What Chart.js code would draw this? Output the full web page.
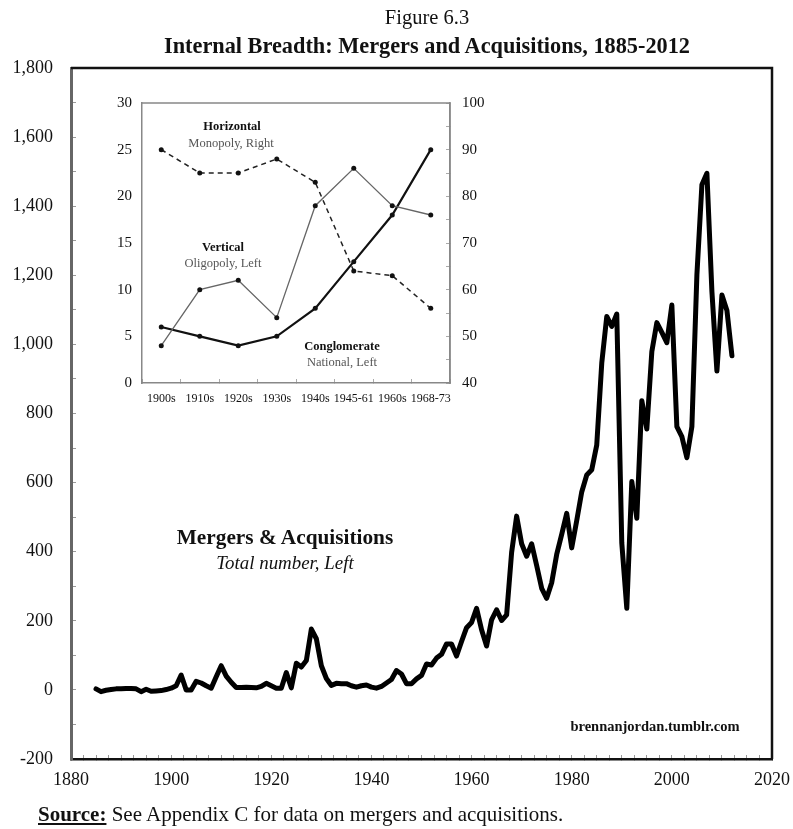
<!DOCTYPE html>
<html>
<head>
<meta charset="utf-8">
<script src="https://cdn.jsdelivr.net/npm/chart.js@4"></script>
<style>
  body { margin: 0; background: #fff; }
  #wrap { position: relative; width: 793px; height: 829px; font-family: "Liberation Serif", serif; color: #111; }
  canvas { position: absolute; }
  .t { position: absolute; white-space: nowrap; line-height: 1; transform: translate(-50%, -50%); }
</style>
</head>
<body>
<div id="wrap">
  <canvas id="main" width="793" height="829" style="left:0;top:0"></canvas>
  <canvas id="inset" width="400" height="330" style="left:90px;top:90px"></canvas>

  <div class="t" style="left:427px;top:17px;font-size:20.5px">Figure 6.3</div>
  <div class="t" style="left:427px;top:46px;font-size:22.3px;font-weight:bold">Internal Breadth: Mergers and Acquisitions, 1885-2012</div>

  <div class="t" style="left:232px;top:126px;font-size:12.5px;font-weight:bold">Horizontal</div>
  <div class="t" style="left:231px;top:143px;font-size:12.5px;color:#555">Monopoly, Right</div>
  <div class="t" style="left:223px;top:247px;font-size:12.5px;font-weight:bold">Vertical</div>
  <div class="t" style="left:223px;top:263px;font-size:12.5px;color:#555">Oligopoly, Left</div>
  <div class="t" style="left:342px;top:346px;font-size:12.5px;font-weight:bold">Conglomerate</div>
  <div class="t" style="left:342px;top:362px;font-size:12.5px;color:#555">National, Left</div>

  <div class="t" style="left:285px;top:538px;font-size:21.3px;font-weight:bold">Mergers &amp; Acquisitions</div>
  <div class="t" style="left:285px;top:563px;font-size:18.9px;font-style:italic">Total number, Left</div>

  <div class="t" style="left:655px;top:726px;font-size:14.5px;font-weight:bold">brennanjordan.tumblr.com</div>

  <div style="position:absolute;left:38px;top:804px;font-size:21px;line-height:1;white-space:nowrap"><b style="text-decoration:underline">Source:</b> See Appendix C for data on mergers and acquisitions.</div>
</div>

<script>
// main series: total mergers & acquisitions per year
const firstYear = 1885;
const maValues = [
  3, -5, -1, 1, 3,                       // 1885-1889
  3, 4, 4, 3, -5, 2, -4, -3, -2, 1,      // 1890s
  5, 12, 43, 0, 0, 25, 20, 12, 5, 38,    // 1900s
  70, 40, 22, 7, 7, 8, 7, 6, 10, 19,     // 1910s
  12, 5, 5, 50, 6, 77, 66, 85, 176, 148, // 1920s
  70, 33, 13, 19, 18, 18, 12, 8, 12, 14, // 1930s
  8, 5, 10, 20, 30, 56, 46, 18, 18, 32,  // 1940s
  42, 75, 72, 92, 103, 133, 133, 98, 140, 180,     // 1950s
  195, 236, 174, 127, 203, 232, 201, 217, 398, 503, // 1960s
  423, 387, 423, 360, 294, 265, 310, 392, 450, 511, // 1970s
  411, 490, 573, 622, 637, 709, 946, 1081, 1052, 1088,  // 1980s
  425, 236, 603, 497, 837, 755, 979, 1063, 1035, 1005,  // 1990s
  1114, 762, 733, 672, 762, 1201, 1462, 1495, 1153, 923, // 2000s
  1143, 1098, 967                        // 2010-2012
];
const years = maValues.map((v, i) => firstYear + i);

// inset: merger waves by type
const eras = ['1900s', '1910s', '1920s', '1930s', '1940s', '1945-61', '1960s', '1968-73'];
const horizontal = [90, 85, 85, 88, 83, 64, 63, 56];   // monopoly, right axis
const vertical = [4, 10, 11, 7, 19, 23, 19, 18];       // oligopoly, left axis
const conglomerate = [6, 5, 4, 5, 8, 13, 18, 25];      // national, left axis

Chart.defaults.font.family = "'Liberation Serif', serif";
Chart.defaults.color = '#111';

// top and right edges of the plot box
const framePlugin = {
  id: 'frame',
  afterDraw(chart, args, opts) {
    const { ctx, chartArea: a } = chart;
    ctx.save();
    ctx.strokeStyle = opts.color;
    ctx.lineWidth = opts.width;
    ctx.beginPath();
    ctx.moveTo(a.left, a.top);
    ctx.lineTo(a.right, a.top);
    ctx.lineTo(a.right, a.bottom);
    ctx.stroke();
    ctx.restore();
  }
};

// fixed axis size, no extra label overflow padding
function fixSize(prop, size) {
  return s => {
    s[prop] = size;
    s.paddingLeft = 0; s.paddingRight = 0;
    s.paddingTop = 0; s.paddingBottom = 0;
  };
}

new Chart(document.getElementById('main'), {
  type: 'line',
  data: {
    datasets: [{
      data: years.map((y, i) => ({ x: y, y: maValues[i] })),
      borderColor: '#000',
      borderWidth: 5,
      pointRadius: 0,
      tension: 0,
      borderJoinStyle: 'round',
      borderCapStyle: 'round'
    }]
  },
  options: {
    responsive: false,
    animation: false,
    devicePixelRatio: 1,
    layout: { padding: { left: 0, right: 21, top: 68, bottom: 30 } },
    plugins: {
      legend: { display: false },
      tooltip: { enabled: false },
      frame: { color: '#111', width: 2.5 }
    },
    scales: {
      x: {
        type: 'linear',
        min: 1880,
        max: 2020,
        afterFit: fixSize('height', 40),
        border: { display: true, color: '#111', width: 2.5 },
        grid: { drawOnChartArea: false, drawTicks: true, tickLength: -4, color: '#999' },
        ticks: {
          stepSize: 2.5,
          autoSkip: false,
          maxRotation: 0,
          padding: 14,
          font: { size: 18 },
          callback: v => (v % 20 === 0 ? String(v) : '')
        }
      },
      y: {
        min: -200,
        max: 1800,
        afterFit: fixSize('width', 71),
        border: { display: true, color: '#666', width: 3 },
        grid: { drawOnChartArea: false, drawTicks: true, tickLength: -5, color: '#999' },
        ticks: {
          stepSize: 100,
          autoSkip: false,
          padding: 23,
          font: { size: 18 },
          callback: v => (v % 200 === 0 ? v.toLocaleString('en-US') : '')
        }
      }
    }
  },
  plugins: [framePlugin]
});

new Chart(document.getElementById('inset'), {
  type: 'line',
  data: {
    labels: eras,
    datasets: [
      {
        label: 'Horizontal',
        data: horizontal,
        yAxisID: 'yR',
        borderColor: '#222',
        borderWidth: 1.5,
        borderDash: [5, 4],
        pointRadius: 2.5,
        pointBackgroundColor: '#111',
        pointBorderWidth: 0,
        tension: 0
      },
      {
        label: 'Vertical',
        data: vertical,
        yAxisID: 'y',
        borderColor: '#666',
        borderWidth: 1.3,
        pointRadius: 2.5,
        pointBackgroundColor: '#111',
        pointBorderWidth: 0,
        tension: 0
      },
      {
        label: 'Conglomerate',
        data: conglomerate,
        yAxisID: 'y',
        borderColor: '#111',
        borderWidth: 2.2,
        pointRadius: 2.5,
        pointBackgroundColor: '#111',
        pointBorderWidth: 0,
        tension: 0
      }
    ]
  },
  options: {
    responsive: false,
    animation: false,
    devicePixelRatio: 1,
    layout: { padding: { left: 0, right: 0, top: 13, bottom: 0 } },
    plugins: {
      legend: { display: false },
      tooltip: { enabled: false },
      frame: { color: '#888', width: 1.5 }
    },
    scales: {
      x: {
        offset: true,
        afterFit: fixSize('height', 37),
        border: { display: true, color: '#888', width: 1.5 },
        grid: { offset: true, drawOnChartArea: false, drawTicks: true, tickLength: -4, color: '#aaa' },
        ticks: { padding: 13, maxRotation: 0, autoSkip: false, font: { size: 12 } }
      },
      y: {
        position: 'left',
        min: 0,
        max: 30,
        afterFit: fixSize('width', 52),
        border: { display: true, color: '#888', width: 1.5 },
        grid: { drawOnChartArea: false, drawTicks: false },
        ticks: { stepSize: 5, padding: 10, font: { size: 15 } }
      },
      yR: {
        position: 'right',
        min: 40,
        max: 100,
        afterFit: fixSize('width', 40),
        border: { display: true, color: '#888', width: 1.5 },
        grid: { drawOnChartArea: false, drawTicks: true, tickLength: -4, color: '#aaa' },
        ticks: {
          stepSize: 5,
          autoSkip: false,
          padding: 16,
          font: { size: 15 },
          callback: v => (v % 10 === 0 ? String(v) : '')
        }
      }
    }
  },
  plugins: [framePlugin]
});
</script>
</body>
</html>
